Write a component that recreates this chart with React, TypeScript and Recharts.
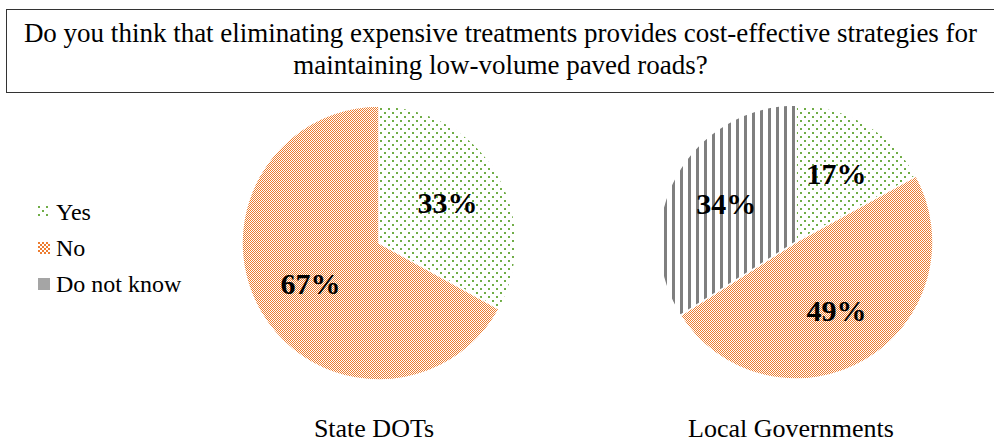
import React from 'react';
import { PieChart, Pie, Cell, Legend } from 'recharts';

// Survey answers (percent)
const answers = ['Yes', 'No', 'Do not know'];
const stateDots = [33, 67];
const localGovs = [17, 49, 34];
const groups = ['State DOTs', 'Local Governments'];

const TITLE_1 = 'Do you think that eliminating expensive treatments provides cost-effective strategies for';
const TITLE_2 = 'maintaining low-volume paved roads?';

const FONT = "'Liberation Serif', 'Times New Roman', Times, serif";
const fills = ['url(#pat-yes)', 'url(#pat-no)', 'url(#pat-dk)'];
const legendFills = ['url(#pat-yes)', 'url(#pat-no-lg)', '#a5a5a5'];

const stateData = stateDots.map((v, i) => ({ name: answers[i], value: v }));
const localData = localGovs.map((v, i) => ({ name: answers[i], value: v }));

const RAD = Math.PI / 180;

const renderLabel = (p: any) => {
  const r = p.outerRadius * 0.58;
  const x = p.cx + r * Math.cos(-p.midAngle * RAD);
  const y = p.cy + r * Math.sin(-p.midAngle * RAD);
  return (
    <text
      x={x}
      y={y}
      textAnchor="middle"
      dominantBaseline="central"
      fontFamily={FONT}
      fontWeight="bold"
      fontSize={30}
      fill="#000"
    >
      {p.value}%
    </text>
  );
};

const LegendBox = () => (
  <div style={{ fontFamily: FONT, fontSize: 24, color: '#000' }}>
    {answers.map((a, i) => (
      <div key={a} style={{ display: 'flex', alignItems: 'center', height: 36 }}>
        <svg width={12} height={12} style={{ marginRight: 6 }}>
          <rect x={0} y={0} width={12} height={12} fill={legendFills[i]} />
        </svg>
        <span>{a}</span>
      </div>
    ))}
  </div>
);

const pies = [
  { cx: 374, cy: 238, data: stateData },
  { cx: 791, cy: 237, data: localData },
];

export default function App() {
  return (
    <div style={{ position: 'absolute', left: 0, top: 0, width: 994, height: 444, background: '#fff', overflow: 'hidden' }}>
      <div
        style={{
          position: 'absolute',
          left: 6,
          top: 9,
          width: 994,
          height: 84,
          border: '1px solid #333',
          borderRight: 'none',
          fontFamily: FONT,
          fontSize: 27,
          lineHeight: '32px',
          textAlign: 'center',
          boxSizing: 'border-box',
          paddingTop: 7,
          paddingRight: 6,
        }}
      >
        <div style={{ whiteSpace: 'nowrap' }}>{TITLE_1}</div>
        <div>{TITLE_2}</div>
      </div>

      <div style={{ position: 'absolute', left: 0, top: 0 }}>
        <PieChart width={994} height={444}>
          <defs>
            <pattern id="pat-yes" width={8} height={8} patternUnits="userSpaceOnUse">
              <rect width={8} height={8} fill="#fff" />
              <rect x={0} y={0} width={2} height={2} fill="#70ad47" />
              <rect x={4} y={4} width={2} height={2} fill="#70ad47" />
            </pattern>
            <pattern id="pat-no" width={2} height={2} patternUnits="userSpaceOnUse">
              <rect width={2} height={2} fill="#fff" />
              <rect x={0} y={0} width={1} height={1} fill="#ed7d31" />
              <rect x={1} y={1} width={1} height={1} fill="#ed7d31" />
            </pattern>
            <pattern id="pat-no-lg" width={4} height={4} patternUnits="userSpaceOnUse">
              <rect width={4} height={4} fill="#fff" />
              <rect x={0} y={0} width={2} height={2} fill="#ed7d31" />
              <rect x={2} y={2} width={2} height={2} fill="#ed7d31" />
            </pattern>
            <pattern id="pat-dk" width={8} height={8} patternUnits="userSpaceOnUse">
              <rect width={8} height={8} fill="#fff" />
              <rect x={0} y={0} width={3} height={8} fill="#7f7f7f" />
            </pattern>
          </defs>
          {pies.map((p, k) => (
            <Pie
              key={k}
              data={p.data}
              dataKey="value"
              nameKey="name"
              cx={p.cx}
              cy={p.cy}
              outerRadius={137}
              startAngle={90}
              endAngle={-270}
              stroke="#fff"
              strokeWidth={1.5}
              label={renderLabel}
              labelLine={false}
              isAnimationActive={false}
            >
              {p.data.map((d, i) => (
                <Cell key={d.name} fill={fills[i]} />
              ))}
            </Pie>
          ))}
          <Legend
            layout="vertical"
            content={<LegendBox />}
            wrapperStyle={{ left: 38, top: 194, width: 200, bottom: 'auto' }}
          />
        </PieChart>
      </div>

      {groups.map((g, i) => (
        <div
          key={g}
          style={{
            position: 'absolute',
            left: pies[i].cx - 150,
            width: 300,
            top: 415,
            textAlign: 'center',
            fontFamily: FONT,
            fontSize: 26,
            lineHeight: '28px',
          }}
        >
          {g}
        </div>
      ))}
    </div>
  );
}
